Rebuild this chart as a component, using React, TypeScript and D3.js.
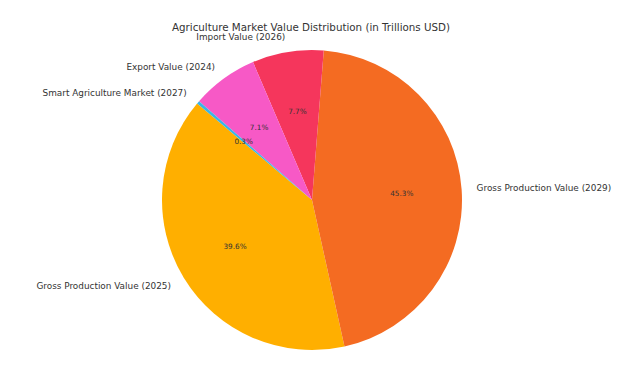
import React from 'react';
import * as d3 from 'd3';

const categories = [
    'Gross Production Value (2025)',
    'Gross Production Value (2029)',
    'Import Value (2026)',
    'Export Value (2024)',
    'Smart Agriculture Market (2027)',
];
const values = [4.38, 5.01, 0.85, 0.79, 0.035];
const colors = ['#FFAF00', '#F46B22', '#F5365C', '#F759C6', '#3AB4E6'];

const width = 641, height = 365;
const cx = 312, cy = 200, radius = 150;
const startAngle = 140; // degrees, matplotlib style (ccw from 3 o'clock)

const App = () => {
    const total = d3.sum(values);

    // matplotlib goes counterclockwise; d3 goes clockwise from 12 o'clock.
    // convert: d3 angle = 90 - mplAngle (in degrees)
    const pie = d3.pie<number>()
        .sort(null)
        .startAngle(((90 - startAngle) * Math.PI) / 180)
        .endAngle(((90 - startAngle - 360) * Math.PI) / 180);

    const arcs = pie(values);
    const arcGen = d3.arc<d3.PieArcDatum<number>>()
        .innerRadius(0)
        .outerRadius(radius);

    const fmt = d3.format('.1f');

    return (
        <svg width={width} height={height} style={{ position: 'absolute', left: 0, top: 0 }}
            fontFamily="DejaVu Sans, sans-serif">
            <rect width={width} height={height} fill="#fff" />
            <text x={311} y={27} textAnchor="middle" dominantBaseline="central"
                fontSize={10.3} fill="#333">
                Agriculture Market Value Distribution (in Trillions USD)
            </text>
            <g transform={`translate(${cx},${cy})`}>
                {arcs.map((a, i) => (
                    <path key={categories[i]} d={arcGen(a) || ''} fill={colors[i]} />
                ))}
                {arcs.map((a, i) => {
                    const mid = (a.startAngle + a.endAngle) / 2;
                    const sx = Math.sin(mid), sy = -Math.cos(mid);
                    const lx = sx * radius * 1.1, ly = sy * radius * 1.1;
                    const px = sx * radius * 0.6, py = sy * radius * 0.6;
                    return (
                        <g key={'t' + i}>
                            <text x={lx} y={ly} textAnchor={lx > 0 ? 'start' : 'end'}
                                dominantBaseline="central" fontSize={8.9} fill="#333">
                                {categories[i]}
                            </text>
                            <text x={px} y={py} textAnchor="middle" dominantBaseline="central"
                                fontSize={7.3} fill="#333">
                                {fmt((values[i] / total) * 100)}%
                            </text>
                        </g>
                    );
                })}
            </g>
        </svg>
    );
};

export default App;
